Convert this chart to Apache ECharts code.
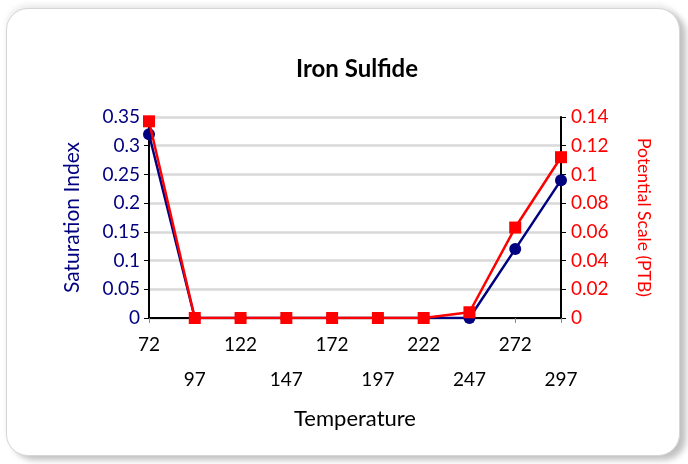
<!DOCTYPE html>
<html>
<head>
<meta charset="utf-8">
<script src="https://cdn.jsdelivr.net/npm/echarts@6/dist/echarts.min.js"></script>
<style>
  html, body { margin: 0; padding: 0; background: #fff; }
  #card {
    position: absolute; left: 6px; top: 8px; width: 672px; height: 446px;
    border: 1px solid #d6d6d6; border-radius: 22px;
    box-shadow: 6px 4px 6px #c0c0c0, 0 -4px 5px #eeeeee;
    background: #fff;
  }
  #chart { position: absolute; left: 0; top: 0; width: 688px; height: 464px; }
</style>
</head>
<body>
<div id="card"></div>
<div id="chart"></div>
<script>
// 温度 (x 轴)
var temperature = ['72', '97', '122', '147', '172', '197', '222', '247', '272', '297'];
// Saturation Index (左轴)
var saturationIndex = [0.32, 0, 0, 0, 0, 0, 0, 0, 0.12, 0.24];
// Potential Scale PTB (右轴)
var potentialScale = [0.137, 0, 0, 0, 0, 0, 0, 0.004, 0.063, 0.112];

var navy = '#000080';
var red = '#ff0000';
var font = 'Lato, "Liberation Sans", sans-serif';

var myChart = echarts.init(document.getElementById('chart'));

myChart.setOption({
    animation: false,
    title: {
        text: 'Iron Sulfide',
        left: 352,
        textAlign: 'center',
        top: 52,
        textStyle: { fontFamily: font, fontSize: 24, fontWeight: 'bold', color: '#000' }
    },
    grid: { left: 149, right: 127, top: 117, bottom: 146 },
    xAxis: {
        type: 'category',
        boundaryGap: false,
        data: temperature,
        name: 'Temperature',
        nameLocation: 'middle',
        nameGap: 90,
        nameTextStyle: { fontFamily: font, fontSize: 22, color: '#000' },
        axisLine: { lineStyle: { color: '#000', width: 2 } },
        axisTick: { show: true, length: 5, lineStyle: { color: '#888', width: 1 } },
        axisLabel: {
            interval: 0,
            margin: 9,
            lineHeight: 35,
            fontFamily: font,
            fontSize: 19,
            color: '#000',
            formatter: function(v, i) {
                return i % 2 ? '\n' + v : v;
            }
        },
        splitLine: { show: false }
    },
    yAxis: [{
        type: 'value',
        min: 0,
        max: 0.35,
        interval: 0.05,
        name: 'Saturation Index',
        nameLocation: 'middle',
        nameRotate: 90,
        nameGap: 66,
        nameTextStyle: { fontFamily: font, fontSize: 21, color: navy },
        axisLine: { show: true, lineStyle: { color: '#000', width: 2 } },
        axisTick: { show: true, length: 5, lineStyle: { color: '#000' } },
        axisLabel: { fontFamily: font, fontSize: 19, color: navy, margin: 9 },
        splitLine: { lineStyle: { color: '#d9d9d9', width: 2.5 } }
    }, {
        type: 'value',
        position: 'right',
        min: 0,
        max: 0.14,
        interval: 0.02,
        name: 'Potential Scale (PTB)',
        nameLocation: 'middle',
        nameRotate: -90,
        nameGap: 74,
        nameTextStyle: { fontFamily: font, fontSize: 17.5, color: red },
        axisLine: { show: true, lineStyle: { color: '#000', width: 2 } },
        axisTick: { show: true, length: 5, lineStyle: { color: '#000' } },
        axisLabel: { fontFamily: font, fontSize: 19, color: red, margin: 10 },
        splitLine: { show: false }
    }],
    series: [{
        name: 'Saturation Index',
        type: 'line',
        yAxisIndex: 0,
        data: saturationIndex,
        symbol: 'circle',
        symbolSize: 12,
        z: 2,
        lineStyle: { color: navy, width: 2.5 },
        itemStyle: { color: navy }
    }, {
        name: 'Potential Scale (PTB)',
        type: 'line',
        yAxisIndex: 1,
        data: potentialScale,
        symbol: 'rect',
        symbolSize: 12,
        z: 3,
        lineStyle: { color: red, width: 2.5 },
        itemStyle: { color: red }
    }]
});
</script>
</body>
</html>
